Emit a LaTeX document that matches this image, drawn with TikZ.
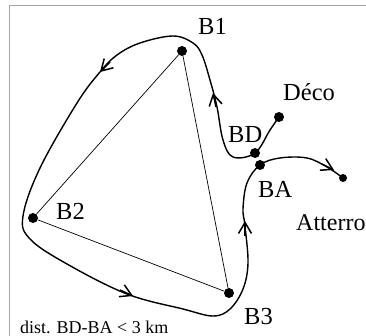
\documentclass[tikz,border=0pt]{standalone}
\usepackage{fontspec}
\setmainfont{Liberation Serif}
\usetikzlibrary{arrows.meta}

\begin{document}
\begin{tikzpicture}[
    x=1pt, y=-1pt,
    every node/.style={inner sep=0pt, font=\fontsize{24.5}{26}\selectfont},
    balise/.style={circle, fill=black, minimum size=10pt},
    course/.style={line width=1.4pt, line join=round},
    triangle/.style={line width=0.7pt},
    pointe/.style={line width=1.5pt, -{Straight Barb[length=11pt, width=13pt, line width=1.5pt]}},
    cadre/.style={line width=0.9pt, draw=gray!70}
]
\useasboundingbox (0,0) rectangle (366,336);

% cadre
\draw[cadre] (9,336) -- (9,5.5) -- (366,5.5);

% balises
\node[balise] (b1) at (182,51) {};
\node[balise] (b2) at (33,218) {};
\node[balise] (b3) at (229,293) {};
\node[balise] (bd) at (255,153) {};
\node[balise] (ba) at (260,165) {};
\node[balise] (deco) at (279,117) {};
\node[balise, minimum size=8pt] (atterro) at (343,178) {};

% textes
\node[anchor=west] (lb1) at (198,26) {B1};
\node[anchor=west] (lb2) at (56,211) {B2};
\node[anchor=west] (lb3) at (244,317) {B3};
\node[anchor=west] (lbd) at (228,135) {BD};
\node[anchor=west] (lba) at (258,189) {BA};
\node[anchor=west] (ldeco) at (283,92) {Déco};
\node[anchor=west, font=\fontsize{24}{26}\selectfont] (latterro) at (296,223) {Atterro};
\node[anchor=west, font=\fontsize{18}{20}\selectfont] (ldist) at (20,327) {dist. BD-BA < 3 km};

% triangle
\draw[triangle] (b1) -- (b2) -- (b3) -- (b1);

% parcours
\coordinate (p1) at (270,130);
\coordinate (p2) at (233,157);
\coordinate (p3) at (223,140);
\coordinate (p4) at (217,107);
\coordinate (p5) at (210,80);
\coordinate (p6) at (202,55);
\coordinate (p7) at (193,43);
\coordinate (p8) at (173,36);
\coordinate (p9) at (140,43);
\coordinate (p10) at (117,55);
\coordinate (p11) at (100,72);
\coordinate (p12) at (77,103);
\coordinate (p13) at (40,168);
\coordinate (p14) at (23,216);
\coordinate (p15) at (30,239);
\coordinate (p16) at (67,264);
\coordinate (p17) at (127,294);
\coordinate (p18) at (183,309);
\coordinate (p19) at (213,316);
\coordinate (p20) at (230,309);
\coordinate (p21) at (243,289);
\coordinate (p22) at (248,263);
\coordinate (p23) at (245,226);
\coordinate (p24) at (243,209);
\coordinate (p25) at (247,183);
\coordinate (p26) at (280,158);
\coordinate (p27) at (307,158);
\coordinate (p28) at (327,167);
\draw[course] plot[smooth, tension=0.6] coordinates {(deco) (p1) (bd) (p2) (p3) (p4) (p5) (p6) (p7) (p8) (p9) (p10) (p11) (p12) (p13) (p14) (p15) (p16) (p17) (p18) (p19) (p20) (p21) (p22) (p23) (p24) (p25) (ba) (p26) (p27) (p28) (atterro)};

% fleches
\coordinate (f1) at (216,107);
\coordinate (g1) at (213,93);
\coordinate (f2) at (110,62);
\coordinate (g2) at (100,72);
\coordinate (f3) at (120,290);
\coordinate (g3) at (133,296);
\coordinate (f4) at (245,236);
\coordinate (g4) at (245,221);
\coordinate (f5) at (322,164);
\coordinate (g5) at (334,170);
\draw[pointe] (f1) -- (g1);
\draw[pointe] (f2) -- (g2);
\draw[pointe] (f3) -- (g3);
\draw[pointe] (f4) -- (g4);
\draw[pointe] (f5) -- (g5);

\end{tikzpicture}
\end{document}
